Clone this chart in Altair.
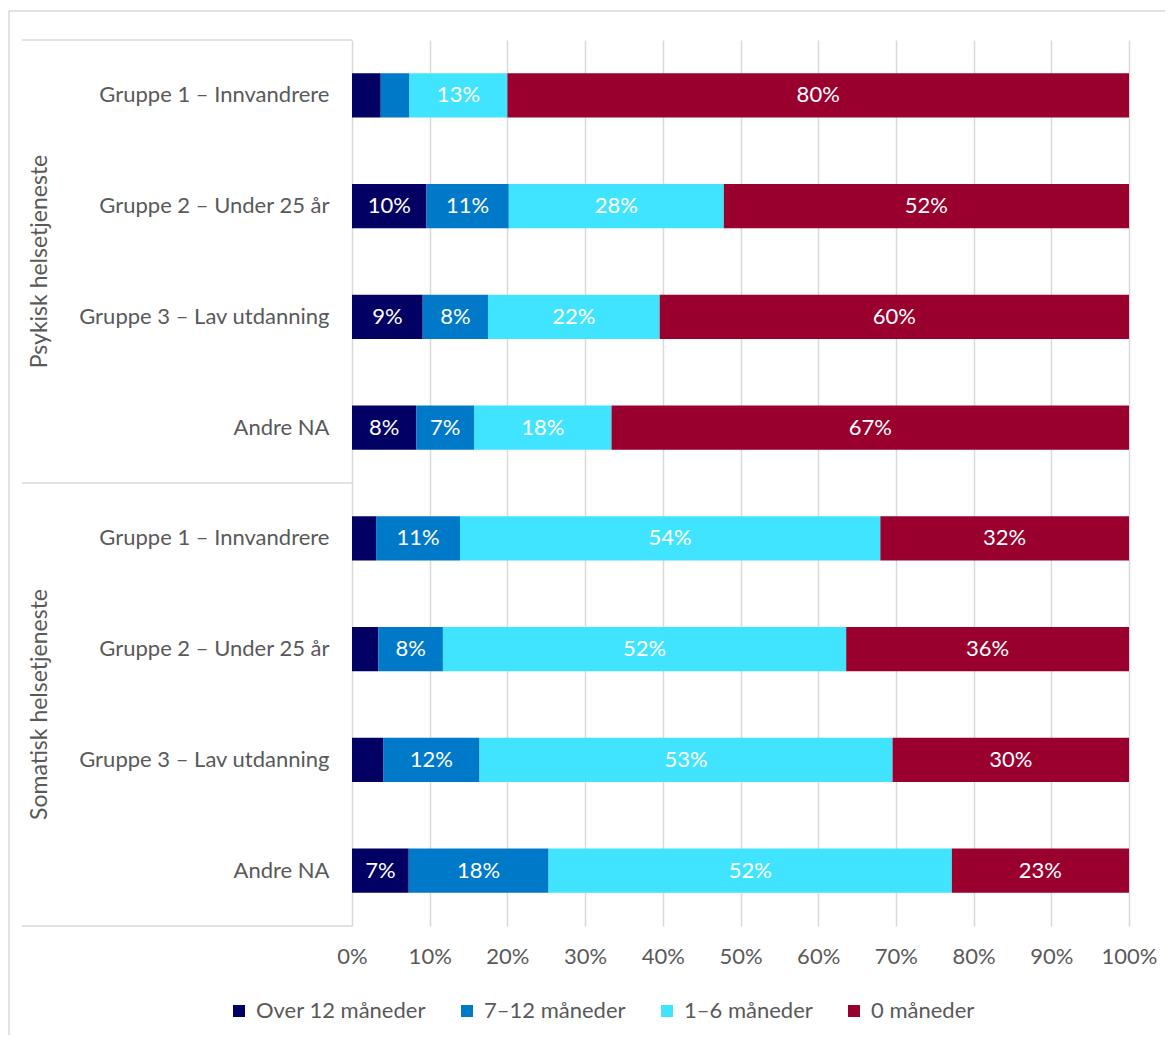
import altair as alt
import pandas as pd

groups = ["Psykisk helsetjeneste"] * 4 + ["Somatisk helsetjeneste"] * 4
categories = ["Gruppe 1 – Innvandrere", "Gruppe 2 – Under 25 år",
              "Gruppe 3 – Lav utdanning", "Andre NA"] * 2
series = ["Over 12 måneder", "7–12 måneder", "1–6 måneder", "0 måneder"]
over12 = [3.7, 9.6, 9.1, 8.3, 3.1, 3.4, 4.0, 7.3]
m7_12 = [3.7, 10.6, 8.4, 7.4, 10.8, 8.3, 12.4, 18.0]
m1_6 = [12.6, 27.7, 22.1, 17.7, 54.1, 51.9, 53.1, 51.9]
m0 = [80.0, 52.2, 60.4, 66.6, 32.0, 36.4, 30.4, 22.8]
colors = ["#020063", "#0079C8", "#41E4FF", "#99002E"]
tick_values = [0, 0.1, 0.2, 0.3, 0.4, 0.5, 0.6, 0.7, 0.8, 0.9, 1.0]

FONT = "Lato"
FS = 22
GREY = "#595959"
LINE = "#D9D9D9"

keys = [g + "|" + c for g, c in zip(groups, categories)]
rows = []
for i, k in enumerate(keys):
    for j, (s, vals) in enumerate(zip(series, [over12, m7_12, m1_6, m0])):
        rows.append({"key": k, "series": s, "order": j, "value": vals[i]})
df = pd.DataFrame(rows)

y_enc = alt.Y(
    "key:N", sort=keys, title=None,
    scale=alt.Scale(paddingInner=0.6, paddingOuter=0.3),
    axis=alt.Axis(labelExpr="split(datum.label, '|')[1]", domain=False, ticks=False,
                  labelPadding=23, labelFontSize=FS, labelFont=FONT, labelColor=GREY,
                  labelLimit=400),
)
x_axis = alt.Axis(values=tick_values, format="%", domain=False, ticks=False,
                  grid=True, gridColor=LINE, gridWidth=1.5, labelPadding=20,
                  labelFlush=False, labelOverlap=False, labelBound=False,
                  labelFontSize=FS, labelFont=FONT, labelColor=GREY, title=None)
x_scale = alt.Scale(domain=[0, 1], nice=False)

base = alt.Chart(df).transform_stack(
    stack="value", groupby=["key"], as_=["v0", "v1"], offset="normalize",
    sort=[alt.SortField(field="order", order="ascending")],
).transform_calculate(
    mid="(datum.v0 + datum.v1) / 2",
    label="round(datum.value) + '%'",
)

bars = base.mark_bar().encode(
    y=y_enc,
    x=alt.X("v0:Q", scale=x_scale, axis=x_axis),
    x2="v1:Q",
    color=alt.Color("series:N", sort=series,
                    scale=alt.Scale(domain=series, range=colors),
                    legend=alt.Legend(orient="none", legendX=-124, legendY=960,
                                      direction="horizontal", title=None,
                                      symbolType="square", symbolSize=144,
                                      symbolStrokeWidth=0, labelFontSize=FS,
                                      labelFont=FONT, labelColor=GREY,
                                      labelOffset=6, columnPadding=30,
                                      gridAlign="none", labelLimit=400)),
    order=alt.Order("order:Q"),
)

texts = base.transform_filter("datum.value >= 5").mark_text(
    color="white", fontSize=FS, font=FONT
).encode(
    y=y_enc,
    x=alt.X("mid:Q", scale=x_scale, axis=x_axis),
    text="label:N",
)

one = pd.DataFrame({"a": [0]})
frame_top = alt.Chart(one).mark_rule(color=LINE, strokeWidth=1.5).encode(
    x=alt.value(-343), x2=alt.value(830), y=alt.value(-29))
frame_left = alt.Chart(one).mark_rule(color=LINE, strokeWidth=1.5).encode(
    x=alt.value(-343), y=alt.value(-29), y2=alt.value(1010))
sep_lines = [
    alt.Chart(one).mark_rule(color=LINE, strokeWidth=1.5).encode(
        x=alt.value(-330), x2=alt.value(0), y=alt.value(yv))
    for yv in [0, 443, 886]
]
group_labels = [
    alt.Chart(one).mark_text(angle=270, fontSize=23, font=FONT, color=GREY,
                             baseline="middle", align="center").encode(
        x=alt.value(-312), y=alt.value(yv), text=alt.value(g))
    for g, yv in [("Psykisk helsetjeneste", 221.5), ("Somatisk helsetjeneste", 664.5)]
]

chart = alt.layer(
    frame_top, frame_left, *sep_lines, bars, texts, *group_labels
).properties(
    width=777, height=886,
    padding={"left": 344, "top": 32, "right": 36, "bottom": 109},
    autosize=alt.AutoSizeParams(type="none"),
).configure_view(stroke=None)

chart.save("out.html", embed_options={"renderer": "svg", "actions": False})
